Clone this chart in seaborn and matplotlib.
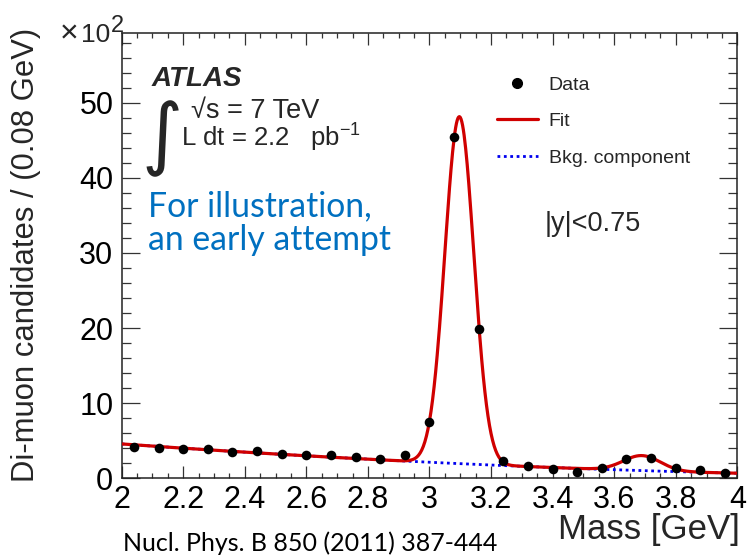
import numpy as np
import pandas as pd
import matplotlib
matplotlib.use("Agg")
import matplotlib.pyplot as plt
from matplotlib.ticker import MultipleLocator, FuncFormatter
from matplotlib.lines import Line2D
import seaborn as sns

# ---------------- data ----------------
mass_gev = [2.04, 2.12, 2.20, 2.28, 2.36, 2.44, 2.52, 2.60, 2.68, 2.76, 2.84, 2.92,
            3.00, 3.08, 3.16, 3.24, 3.32, 3.40, 3.48, 3.56, 3.64, 3.72, 3.80, 3.88, 3.96]
candidates_x100 = [4.13, 4.10, 3.87, 3.91, 3.47, 3.69, 3.20, 3.07, 3.05, 2.80, 2.53, 3.07,
                   7.56, 45.5, 19.9, 2.31, 1.69, 1.24, 0.89, 1.33, 2.53, 2.76, 1.33, 1.07, 0.76]

# fit model parameters
bkg_poly = [4.58, -2.93, 0.49]          # background: c0 + c1*(m-2) + c2*(m-2)^2
jpsi_mean, jpsi_sigma, jpsi_amp = 3.097, 0.047, 46.2
psi2s_mean, psi2s_sigma, psi2s_amp = 3.69, 0.06, 2.0

x_ticks = [2.0, 2.2, 2.4, 2.6, 2.8, 3.0, 3.2, 3.4, 3.6, 3.8, 4.0]
y_ticks = [0, 10, 20, 30, 40, 50]

# ---------------- style ----------------
sns.set_theme(style="ticks")
plt.rcParams["font.family"] = ["Liberation Sans", "DejaVu Sans"]
plt.rcParams["mathtext.fontset"] = "custom"
plt.rcParams["mathtext.rm"] = "Liberation Sans"
plt.rcParams["mathtext.it"] = "Liberation Sans:italic"
plt.rcParams["mathtext.bf"] = "Liberation Sans:bold"

fig = plt.figure(figsize=(7.47, 5.56), dpi=100)
ax = fig.add_axes([0.1629, 0.1397, 0.8241, 0.8004])

df = pd.DataFrame({"mass": mass_gev, "cand": candidates_x100})

grid = np.linspace(2.0, 4.0, 801)
bkg = bkg_poly[0] + bkg_poly[1] * (grid - 2) + bkg_poly[2] * (grid - 2) ** 2
fit = (bkg
       + jpsi_amp * np.exp(-0.5 * ((grid - jpsi_mean) / jpsi_sigma) ** 2)
       + psi2s_amp * np.exp(-0.5 * ((grid - psi2s_mean) / psi2s_sigma) ** 2))
curves = pd.DataFrame({"mass": grid, "fit": fit, "bkg": bkg})

red = "#D00000"
blue = "#0000EE"

sns.lineplot(data=curves, x="mass", y="bkg", ax=ax, color=blue, lw=2.0,
             linestyle=(0, (1.0, 1.3)), zorder=2)
sns.lineplot(data=curves, x="mass", y="fit", ax=ax, color=red, lw=2.3, zorder=3)
sns.scatterplot(data=df, x="mass", y="cand", ax=ax, color="black", s=48,
                edgecolor="black", linewidth=0, zorder=4)

ax.set_xlim(2.0, 4.0)
ax.set_ylim(0, 59.25)
ax.set_xticks(x_ticks)
ax.set_yticks(y_ticks)
ax.xaxis.set_minor_locator(MultipleLocator(0.05))
ax.yaxis.set_minor_locator(MultipleLocator(2))
ax.xaxis.set_major_formatter(FuncFormatter(lambda v, p: f"{v:g}"))
ax.yaxis.set_major_formatter(FuncFormatter(lambda v, p: f"{v:g}"))

ax.tick_params(which="both", direction="in", top=True, right=True,
               width=0.9, color="#333333", labelsize=22, labelcolor="black")
ax.tick_params(axis="x", which="major", length=8.4, pad=5)
ax.tick_params(axis="x", which="minor", length=3.8)
ax.tick_params(axis="y", which="major", length=13, pad=6)
ax.tick_params(axis="y", which="minor", length=6.5)
for sp in ax.spines.values():
    sp.set_linewidth(1.1)
    sp.set_color("#222222")

ax.set_xlabel("Mass [GeV]", fontsize=25, loc="right")
ax.xaxis.set_label_coords(1.004, -0.078)
ax.set_ylabel("Di-muon candidates / (0.08 GeV)", fontsize=22.3, loc="top")
ax.yaxis.set_label_coords(-0.155, 1.012)
ax.yaxis.label.set_va("center")

# multiplier (x10^2)
fig.text(60 / 747, 1 - 42 / 556, "\u00D7", fontsize=23, ha="left", va="baseline")
fig.text(81 / 747, 1 - 42 / 556, "10", fontsize=19, ha="left", va="baseline")
fig.text(111 / 747, 1 - 32 / 556, "2", fontsize=17, ha="left", va="baseline")

# ATLAS block
fig.text(152 / 747, 1 - 86 / 556, "ATLAS", fontsize=20, fontweight="bold",
         fontstyle="italic", ha="left", va="baseline")
fig.text(141 / 747, 1 - 160 / 556, "\u222B", fontsize=57, ha="left", va="baseline",
         family=["DejaVu Sans"])
fig.text(191 / 747, 1 - 118 / 556, "\u221As = 7 TeV", fontsize=19.5, ha="left",
         va="baseline")
fig.text(181 / 747, 1 - 146.5 / 556, r"L dt = 2.2   pb$^{\mathregular{-1}}$",
         fontsize=18.5, ha="left", va="baseline")

# annotations
ax.text((545 - 121.7) / 615.6, (478.3 - 231) / 445, "|y|<0.75", fontsize=19.5,
        transform=ax.transAxes, ha="left", va="baseline")

fig.text(148 / 747, 1 - 216.5 / 556, "For illustration,", fontsize=24.3,
         color="#0070C0", family=["Lato", "DejaVu Sans"], ha="left", va="baseline")
fig.text(148 / 747, 1 - 250 / 556, "an early attempt", fontsize=24.3,
         color="#0070C0", family=["Lato", "DejaVu Sans"], ha="left", va="baseline")

fig.text(123 / 747, 1 - 551 / 556, "Nucl. Phys. B 850 (2011) 387-444", fontsize=18,
         color="black", family=["Lato", "DejaVu Sans"], ha="left", va="baseline")

# legend
handles = [
    Line2D([], [], marker="o", color="black", linestyle="none", markersize=7),
    Line2D([], [], color=red, lw=2.3),
    Line2D([], [], color=blue, lw=2.0, linestyle=(0, (1.0, 1.3))),
]
ax.legend(handles, ["Data", "Fit", "Bkg. component"], loc="upper left",
          bbox_to_anchor=(497 / 747, 1 - 76 / 556), bbox_transform=fig.transFigure,
          frameon=False, fontsize=14, handlelength=2.1, handletextpad=0.55,
          labelspacing=0.97, borderpad=0, borderaxespad=0)

fig.savefig("out.png", dpi=100)
